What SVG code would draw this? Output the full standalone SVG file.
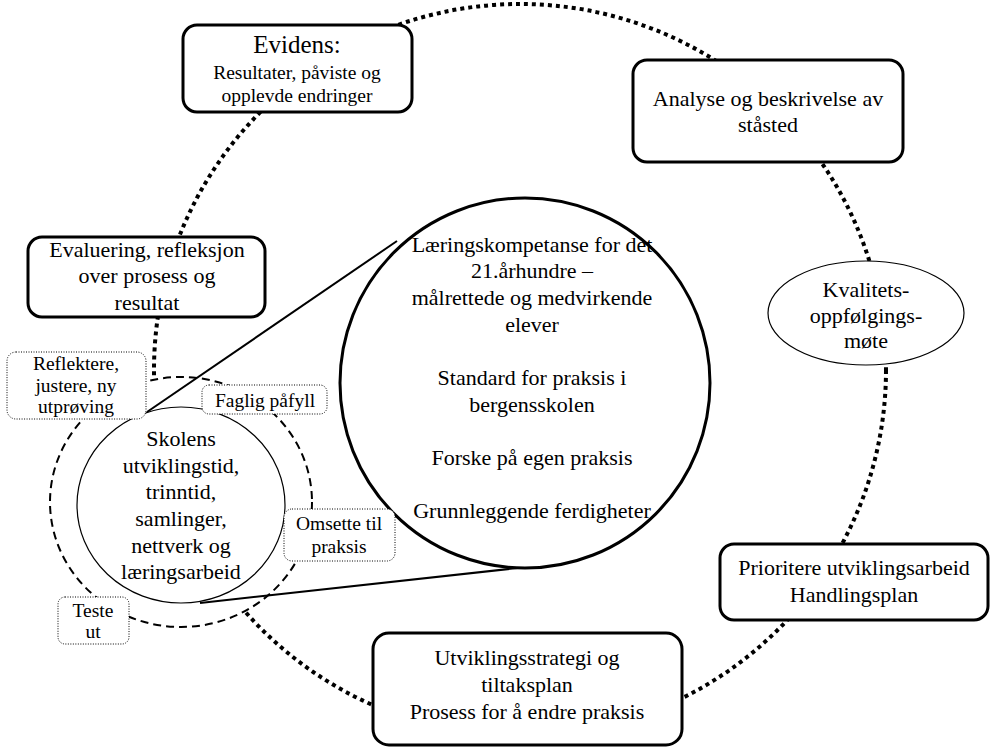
<svg xmlns="http://www.w3.org/2000/svg" width="1001" height="747" viewBox="0 0 1001 747">
<style>
text{font-family:"Liberation Serif","Times New Roman",serif;fill:#000;text-anchor:middle}
.t22{font-size:22px}
.t19{font-size:19.5px}
.t25{font-size:25px}
.box{fill:#fff;stroke:#000;stroke-width:3}
.sbox{fill:#fff;stroke:#000;stroke-width:1;stroke-dasharray:1 1.5}
.cycle{fill:none;stroke:#000;stroke-width:4;stroke-dasharray:4 4}
.dash{fill:#fff;stroke:#000;stroke-width:2;stroke-dasharray:8 5}
.thin{fill:#fff;stroke:#000;stroke-width:1.2}
.line{stroke:#000;stroke-width:2;fill:none}
</style>
<rect width="1001" height="747" fill="#fff"/>
<g id="connectors">
<circle class="cycle" cx="520" cy="370" r="366"/>
<ellipse class="dash" cx="181" cy="502" rx="131" ry="125"/>
<line class="line" x1="147" y1="412" x2="397" y2="241"/>
<line class="line" x1="200" y1="603" x2="527" y2="567"/>
</g>
<g id="skolens">
<ellipse class="thin" cx="181" cy="505" rx="104" ry="98"/>
<text class="t22" x="181" y="446">Skolens</text>
<text class="t22" x="181" y="473">utviklingstid,</text>
<text class="t22" x="181" y="499">trinntid,</text>
<text class="t22" x="181" y="526">samlinger,</text>
<text class="t22" x="181" y="553">nettverk og</text>
<text class="t22" x="181" y="579">læringsarbeid</text>
</g>
<g id="center">
<circle cx="525" cy="383" r="185" fill="#fff" stroke="#000" stroke-width="3"/>
<text class="t22" x="532" y="252">Læringskompetanse for det</text>
<text class="t22" x="532" y="278">21.århundre –</text>
<text class="t22" x="532" y="305">målrettede og medvirkende</text>
<text class="t22" x="532" y="332">elever</text>
<text class="t22" x="532" y="385">Standard for praksis i</text>
<text class="t22" x="532" y="412">bergensskolen</text>
<text class="t22" x="532" y="465">Forske på egen praksis</text>
<text class="t22" x="532" y="518">Grunnleggende ferdigheter</text>
</g>
<g id="evidens">
<rect class="box" x="183" y="25" width="229" height="87" rx="14"/>
<text class="t25" x="297" y="53">Evidens:</text>
<text class="t19" x="297" y="79">Resultater, påviste og</text>
<text class="t19" x="297" y="102">opplevde endringer</text>
</g>
<g id="analyse">
<rect class="box" x="633" y="60" width="270" height="102" rx="14"/>
<text class="t22" x="768" y="106">Analyse og beskrivelse av</text>
<text class="t22" x="768" y="132">ståsted</text>
</g>
<g id="kvalitet">
<ellipse class="thin" cx="866" cy="313" rx="98" ry="52"/>
<text class="t22" x="866" y="297">Kvalitets-</text>
<text class="t22" x="866" y="323">oppfølgings-</text>
<text class="t22" x="866" y="348">møte</text>
</g>
<g id="prioritere">
<rect class="box" x="720" y="544" width="268" height="76" rx="14"/>
<text class="t22" x="854" y="575">Prioritere utviklingsarbeid</text>
<text class="t22" x="854" y="602">Handlingsplan</text>
</g>
<g id="utvikling">
<rect class="box" x="373" y="633" width="309" height="112" rx="16"/>
<text class="t22" x="527" y="665">Utviklingsstrategi og</text>
<text class="t22" x="527" y="692">tiltaksplan</text>
<text class="t22" x="527" y="719">Prosess for å endre praksis</text>
</g>
<g id="evaluering">
<rect class="box" x="28" y="237" width="237" height="80" rx="14"/>
<text class="t22" x="147" y="257">Evaluering, refleksjon</text>
<text class="t22" x="147" y="283">over prosess og</text>
<text class="t22" x="147" y="310">resultat</text>
</g>
<g id="reflektere">
<rect class="sbox" x="7" y="352" width="139" height="67" rx="9"/>
<text class="t19" x="76" y="370">Reflektere,</text>
<text class="t19" x="76" y="392">justere, ny</text>
<text class="t19" x="76" y="413">utprøving</text>
</g>
<g id="faglig">
<rect class="sbox" x="202" y="385" width="125" height="29" rx="7"/>
<text class="t19" x="265" y="407">Faglig påfyll</text>
</g>
<g id="omsette">
<rect class="sbox" x="284" y="509" width="111" height="52" rx="8"/>
<text class="t19" x="339" y="530">Omsette til</text>
<text class="t19" x="339" y="553">praksis</text>
</g>
<g id="teste">
<rect class="sbox" x="58" y="597" width="71" height="47" rx="7"/>
<text class="t19" x="93" y="617">Teste</text>
<text class="t19" x="93" y="638">ut</text>
</g>
</svg>
